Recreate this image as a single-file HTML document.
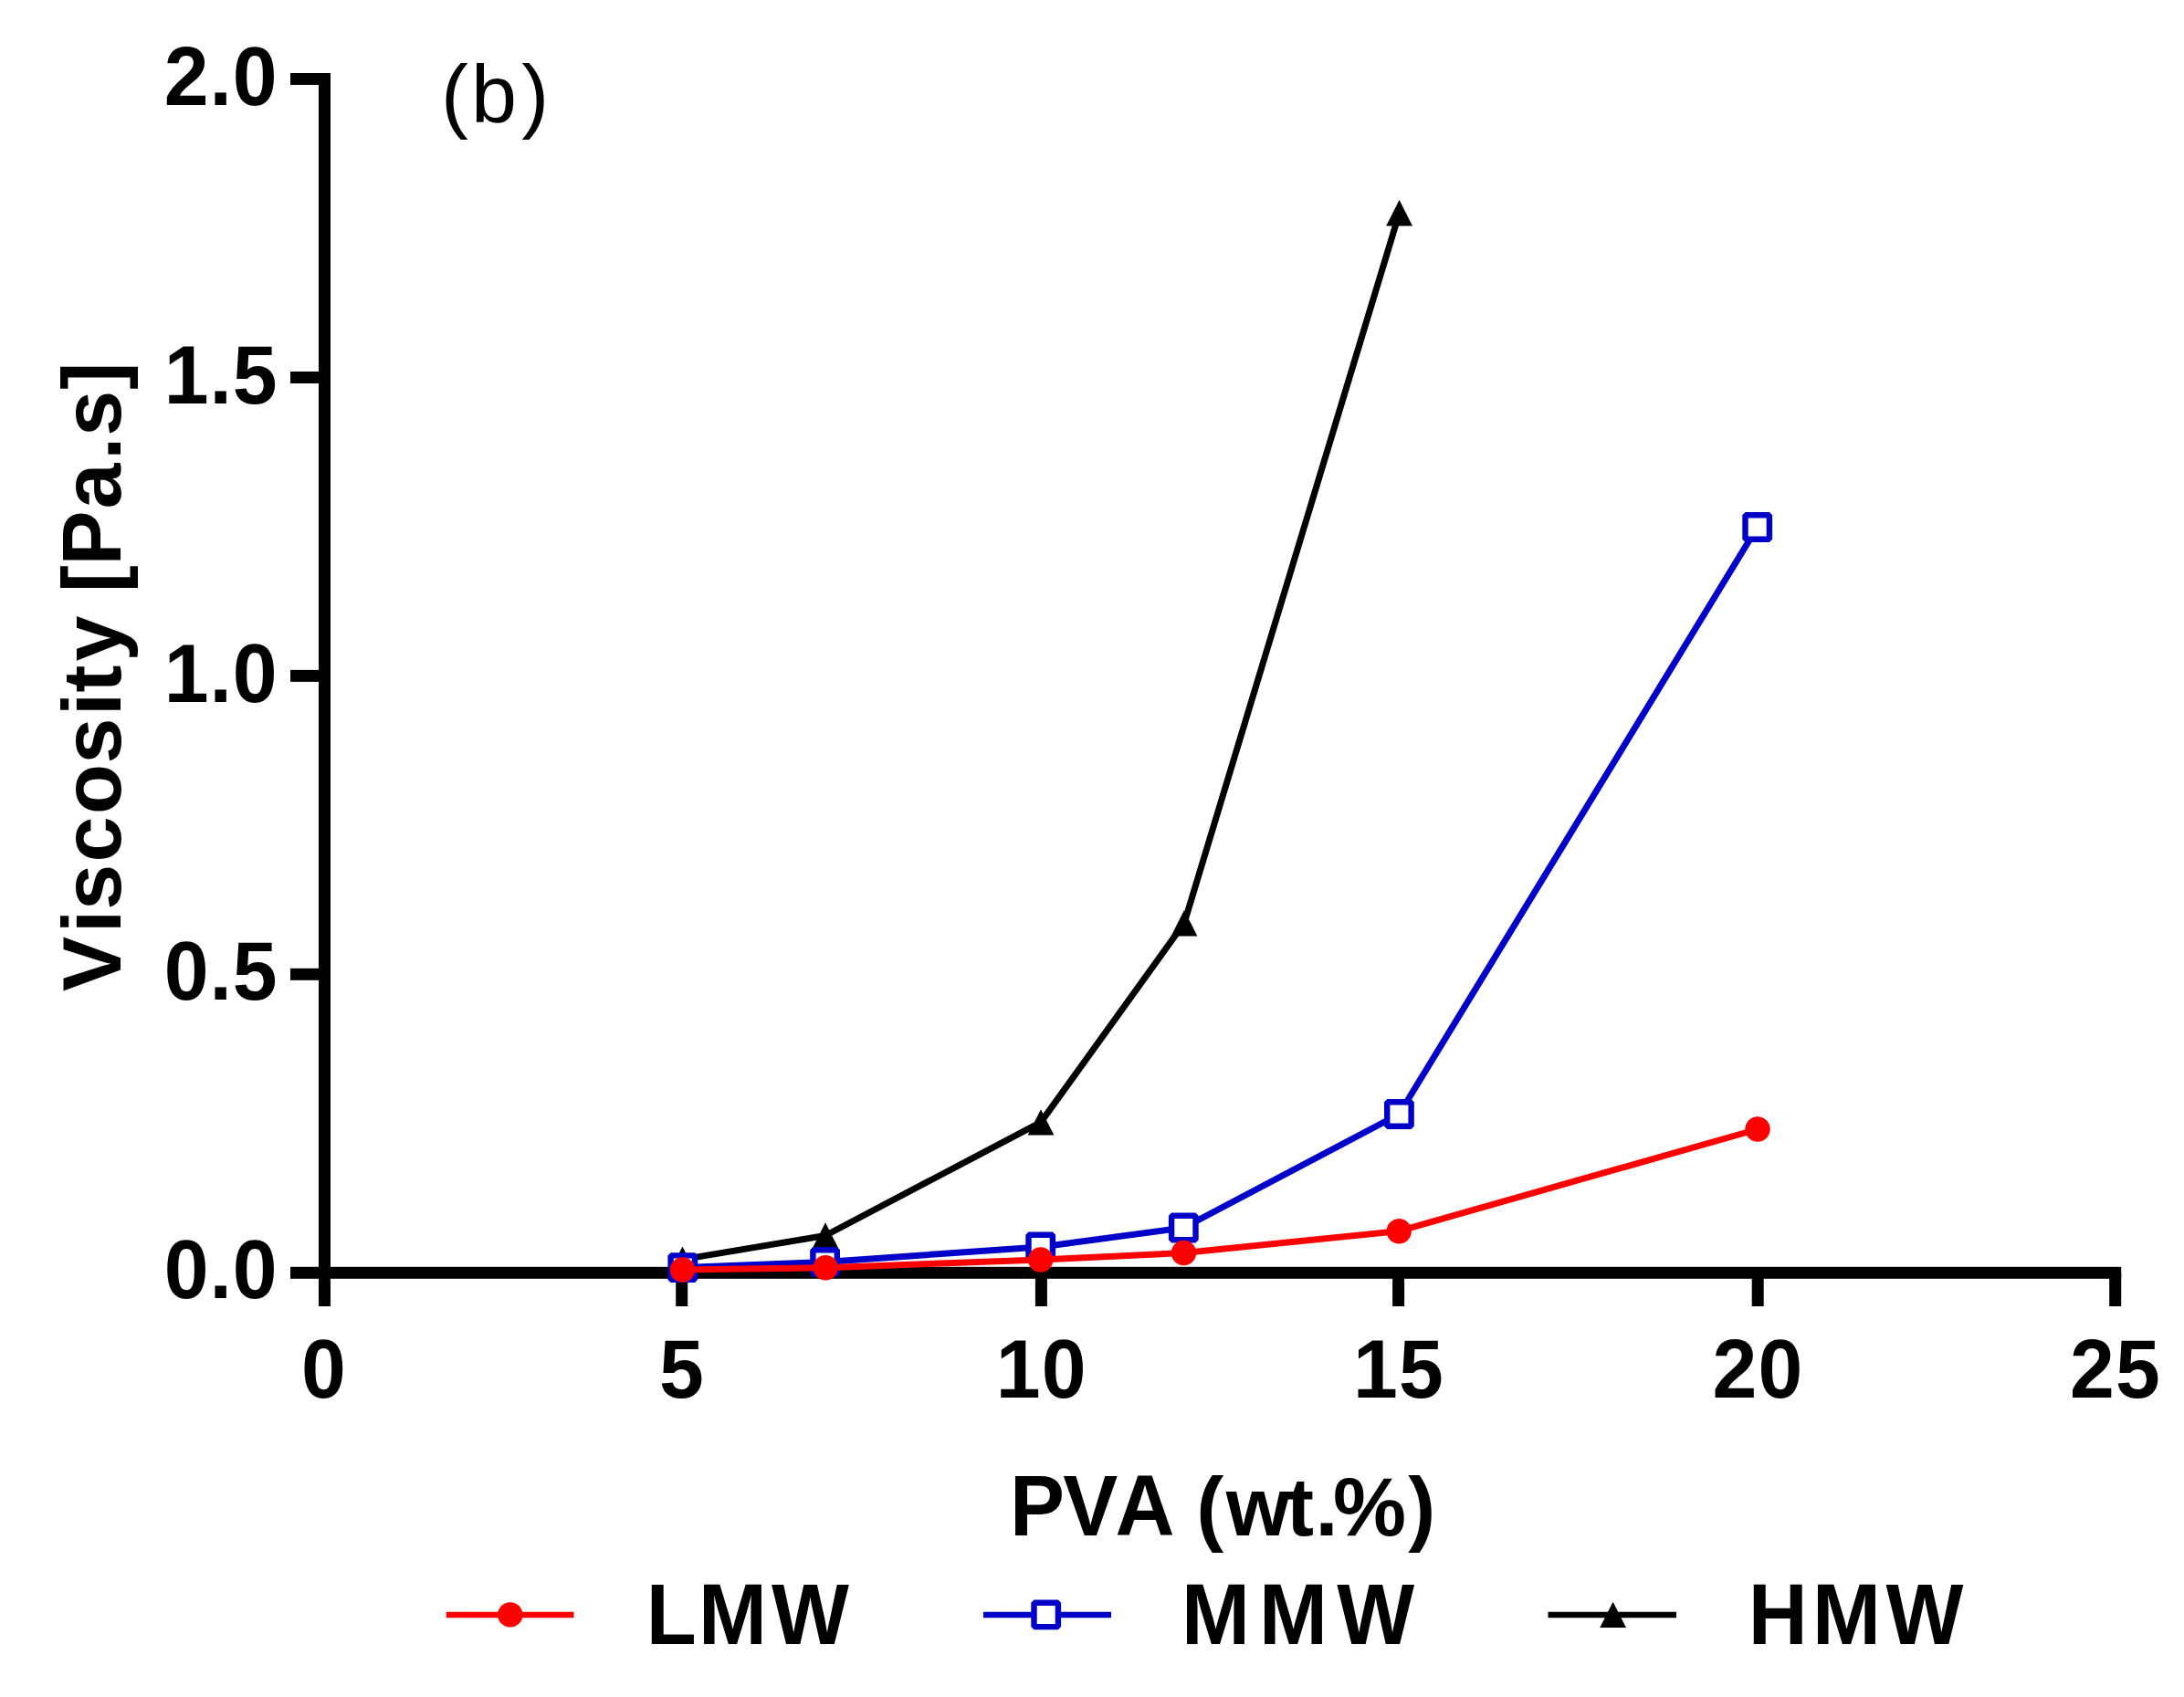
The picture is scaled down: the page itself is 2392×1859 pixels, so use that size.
<!DOCTYPE html>
<html lang="en">
<head>
<meta charset="utf-8">
<title>Viscosity vs PVA concentration</title>
<style>
html,body{margin:0;padding:0;background:#fff;}
body{width:2392px;height:1859px;overflow:hidden;}
svg{display:block;}
text{font-family:"Liberation Sans",Arial,Helvetica,sans-serif;fill:#000;font-kerning:none;}
.b{font-weight:700;font-size:90px;}
.r{font-weight:400;font-size:90px;}
</style>
</head>
<body>
<svg width="2392" height="1859" viewBox="0 0 2392 1859">
<rect x="0" y="0" width="2392" height="1859" fill="#fff"/>
<g fill="#000">
<rect x="349" y="80" width="13" height="1351"/>
<rect x="318" y="1387.8" width="2005.2" height="13"/>
<rect x="318" y="1060.8" width="32" height="13"/>
<rect x="318" y="733.9" width="32" height="13"/>
<rect x="318" y="407.0" width="32" height="13"/>
<rect x="318" y="80.0" width="32" height="13"/>
<rect x="740.2" y="1394" width="13" height="37"/>
<rect x="1133.9" y="1394" width="13" height="37"/>
<rect x="1525.1" y="1394" width="13" height="37"/>
<rect x="1918.7" y="1394" width="13" height="37"/>
<rect x="2310.2" y="1394" width="13" height="37"/>
</g>
<text class="b" transform="translate(0,1422.4) scale(0.975,1.012)" x="184.3 235.3 261.3" y="0">0.0</text>
<text class="b" transform="translate(0,1095.4) scale(0.975,1.012)" x="184.3 235.3 261.3" y="0">0.5</text>
<text class="b" transform="translate(0,768.5) scale(0.975,1.012)" x="184.3 235.3 261.3" y="0">1.0</text>
<text class="b" transform="translate(0,441.6) scale(0.975,1.012)" x="184.3 235.3 261.3" y="0">1.5</text>
<text class="b" transform="translate(0,114.6) scale(0.975,1.012)" x="184.3 235.3 261.3" y="0">2.0</text>
<text class="b" transform="translate(0,1531.3) scale(0.975,1.012)" x="338.4" y="0">0</text>
<text class="b" transform="translate(0,1531.3) scale(0.975,1.012)" x="740.5" y="0">5</text>
<text class="b" transform="translate(0,1531.3) scale(0.975,1.012)" x="1118.6 1170.0" y="0">10</text>
<text class="b" transform="translate(0,1531.3) scale(0.975,1.012)" x="1519.9 1571.2" y="0">15</text>
<text class="b" transform="translate(0,1531.3) scale(0.975,1.012)" x="1923.6 1974.9" y="0">20</text>
<text class="b" transform="translate(0,1531.3) scale(0.975,1.012)" x="2325.1 2376.4" y="0">25</text>
<text class="r" transform="translate(0,134.4) scale(1.0,0.98)" x="483.0 516.0 571.3" y="0">(b)</text>
<text class="b" transform="translate(0,1682.4) scale(1.0,1.045)" x="1105.9 1164.2 1221.4" y="0">PVA</text>
<text class="b" transform="translate(0,1682.4) scale(1.0,1)" x="1310.3 1342.8 1408.9 1440.4 1460.1 1542.3" y="0">(wt.%)</text>
<text class="b" transform="translate(132.2,1100) rotate(-90)" x="14.0 77.9 103.3 155.4 208.0 263.5 316.1 341.6 375.6 425.6 450.9 480.6 542.4 596.3 622.2 673.3" y="0">Viscosity [Pa.s]</text>
<polyline points="747.5,1379.6 904.0,1353.5 1140.0,1229.4 1297.0,1011.2 1532.6,233.3" fill="none" stroke="#000" stroke-width="7.0" stroke-linejoin="round"/>
<polygon points="747.5,1365.4 761.9,1393.8 733.1,1393.8" fill="#000"/>
<polygon points="904.0,1339.3 918.4,1367.7 889.6,1367.7" fill="#000"/>
<polygon points="1140.0,1215.2 1154.4,1243.6 1125.6,1243.6" fill="#000"/>
<polygon points="1297.0,997.0 1311.4,1025.4 1282.6,1025.4" fill="#000"/>
<polygon points="1532.6,219.1 1547.0,247.5 1518.2,247.5" fill="#000"/>
<polyline points="747.8,1388.6 903.6,1382.4 1139.7,1366.0 1296.3,1345.0 1532.4,1220.5 1924.7,577.5" fill="none" stroke="#0000c8" stroke-width="7.0" stroke-linejoin="round"/>
<rect x="734.6" y="1375.4" width="26.4" height="26.4" fill="#fff" stroke="#0000c8" stroke-width="6.4" stroke-linejoin="bevel"/>
<rect x="890.4" y="1369.2" width="26.4" height="26.4" fill="#fff" stroke="#0000c8" stroke-width="6.4" stroke-linejoin="bevel"/>
<rect x="1126.5" y="1352.8" width="26.4" height="26.4" fill="#fff" stroke="#0000c8" stroke-width="6.4" stroke-linejoin="bevel"/>
<rect x="1283.1" y="1331.8" width="26.4" height="26.4" fill="#fff" stroke="#0000c8" stroke-width="6.4" stroke-linejoin="bevel"/>
<rect x="1519.2" y="1207.3" width="26.4" height="26.4" fill="#fff" stroke="#0000c8" stroke-width="6.4" stroke-linejoin="bevel"/>
<rect x="1911.5" y="564.3" width="26.4" height="26.4" fill="#fff" stroke="#0000c8" stroke-width="6.4" stroke-linejoin="bevel"/>
<polyline points="747.5,1391.0 904.2,1388.7 1139.7,1380.0 1296.5,1372.5 1532.2,1348.7 1925.0,1237.0" fill="none" stroke="#ff0000" stroke-width="7.0" stroke-linejoin="round"/>
<circle cx="747.5" cy="1391.0" r="13.7" fill="#ff0000"/>
<circle cx="904.2" cy="1388.7" r="13.7" fill="#ff0000"/>
<circle cx="1139.7" cy="1380.0" r="13.7" fill="#ff0000"/>
<circle cx="1296.5" cy="1372.5" r="13.7" fill="#ff0000"/>
<circle cx="1532.2" cy="1348.7" r="13.7" fill="#ff0000"/>
<circle cx="1925.0" cy="1237.0" r="13.7" fill="#ff0000"/>
<line x1="488.8" y1="1768.9" x2="628.5" y2="1768.9" stroke="#ff0000" stroke-width="6.5"/>
<circle cx="558.8" cy="1768.9" r="13.7" fill="#ff0000"/>
<text class="b" transform="translate(0,1800.7) scale(1.0,1.045)" x="707.7 764.9 844.9" y="0">LMW</text>
<line x1="1077" y1="1768.9" x2="1217" y2="1768.9" stroke="#0000c8" stroke-width="6.5"/>
<rect x="1132.5" y="1755.7" width="26.4" height="26.4" fill="#fff" stroke="#0000c8" stroke-width="6.4" stroke-linejoin="bevel"/>
<text class="b" transform="translate(0,1800.7) scale(1.0,1.045)" x="1293.9 1378.9 1464.2" y="0">MMW</text>
<line x1="1695.5" y1="1768.9" x2="1836" y2="1768.9" stroke="#000" stroke-width="6.5"/>
<polygon points="1766.6,1754.7 1781.0,1783.1 1752.2,1783.1" fill="#000"/>
<text class="b" transform="translate(0,1800.7) scale(1.0,1.045)" x="1914.8 1984.9 2065.6" y="0">HMW</text>
</svg>
</body>
</html>
